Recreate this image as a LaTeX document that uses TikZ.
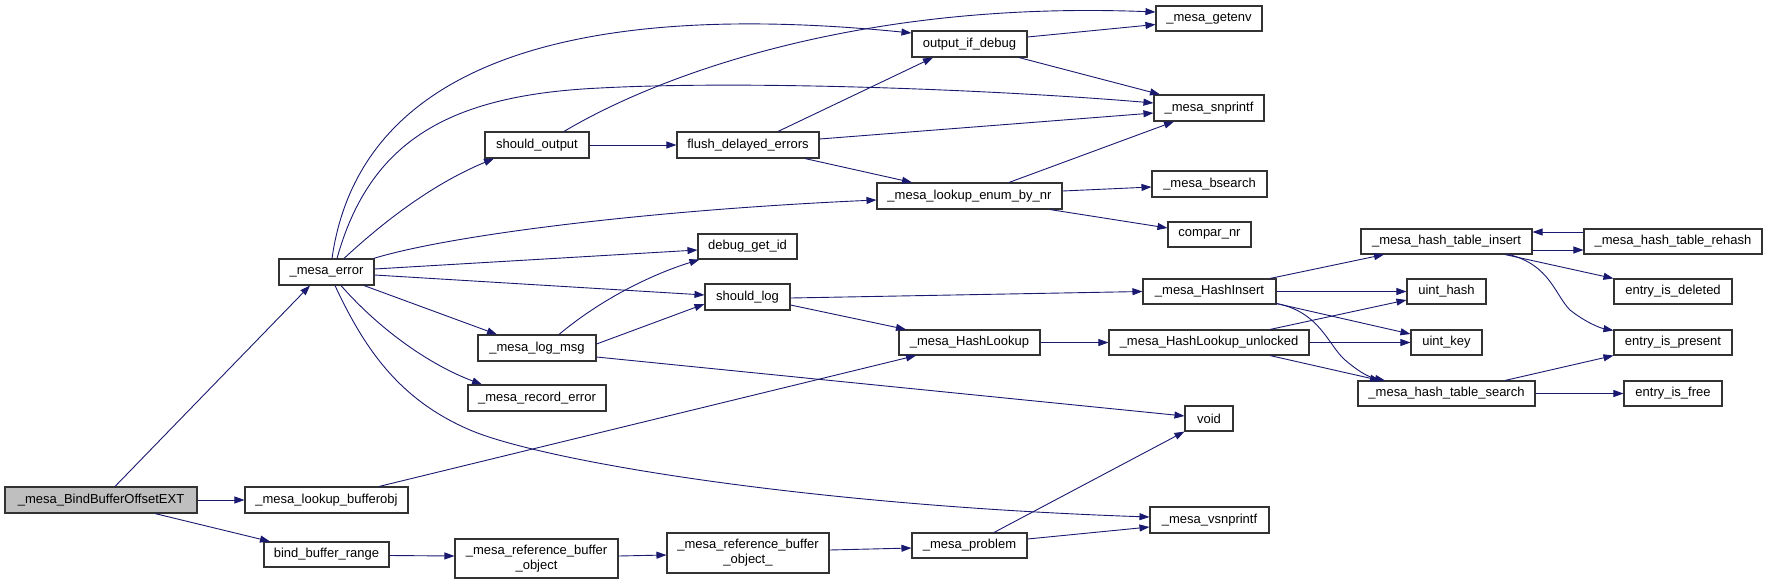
\documentclass[tikz,border=0pt]{standalone}
\usepackage{fontspec}
\setmainfont{Liberation Sans}
\usetikzlibrary{arrows.meta}
\definecolor{edgec}{HTML}{191970}
\definecolor{boxc}{HTML}{333333}
\begin{document}
\begin{tikzpicture}[x=1pt,y=-1pt,
  box/.style={draw=boxc,line width=1.1pt,fill=white,inner sep=0pt,font=\fontsize{13}{15}\selectfont,align=center},
  e/.style={draw=edgec,line width=0.9pt,-{Triangle[length=10pt,width=7pt]}}]
\useasboundingbox (0,0) rectangle (1768,584);
% nodes
\node[box,fill=black!25,minimum width=192,minimum height=26] (bind) at (101,500) {\_mesa\_BindBufferOffsetEXT};
\node[box,minimum width=163,minimum height=26] (lbo) at (326.5,500) {\_mesa\_lookup\_bufferobj};
\node[box,minimum width=125,minimum height=25] (bbr) at (326.5,554.5) {bind\_buffer\_range};
\node[box,minimum width=95,minimum height=26] (err) at (326.5,272) {\_mesa\_error};
\node[box,minimum width=104,minimum height=26] (so) at (537,145) {should\_output};
\node[box,minimum width=142,minimum height=26] (fde) at (748,145) {flush\_delayed\_errors};
\node[box,minimum width=115,minimum height=26] (oid) at (969.5,44) {output\_if\_debug};
\node[box,minimum width=106,minimum height=25] (genv) at (1209,18.5) {\_mesa\_getenv};
\node[box,minimum width=110,minimum height=26] (snp) at (1209,108) {\_mesa\_snprintf};
\node[box,minimum width=185,minimum height=26] (len) at (969.5,196) {\_mesa\_lookup\_enum\_by\_nr};
\node[box,minimum width=115,minimum height=26] (bs) at (1209.5,184) {\_mesa\_bsearch};
\node[box,minimum width=83,minimum height=25] (cnr) at (1209.5,234.5) {compar\_nr};
\node[box,minimum width=99,minimum height=25] (dgi) at (747.5,246.5) {debug\_get\_id};
\node[box,minimum width=85,minimum height=26] (sl) at (747.5,297) {should\_log};
\node[box,minimum width=118,minimum height=26] (lm) at (537,348) {\_mesa\_log\_msg};
\node[box,minimum width=138,minimum height=26] (rec) at (537,398) {\_mesa\_record\_error};
\node[box,minimum width=141,minimum height=25] (hl) at (969.5,342.5) {\_mesa\_HashLookup};
\node[box,minimum width=133,minimum height=25] (hi) at (1209.5,291.5) {\_mesa\_HashInsert};
\node[box,minimum width=200,minimum height=25] (hlu) at (1209,342.5) {\_mesa\_HashLookup\_unlocked};
\node[box,minimum width=171,minimum height=25] (hti) at (1446.5,241.5) {\_mesa\_hash\_table\_insert};
\node[box,minimum width=178,minimum height=25] (rh) at (1673,241.5) {\_mesa\_hash\_table\_rehash};
\node[box,minimum width=79,minimum height=25] (uh) at (1446.5,291.5) {uint\_hash};
\node[box,minimum width=71,minimum height=25] (uk) at (1446.5,342.5) {uint\_key};
\node[box,minimum width=118,minimum height=25] (eid) at (1673,291.5) {entry\_is\_deleted};
\node[box,minimum width=118,minimum height=25] (eip) at (1673,342.5) {entry\_is\_present};
\node[box,minimum width=177,minimum height=25] (hts) at (1446.5,393.5) {\_mesa\_hash\_table\_search};
\node[box,minimum width=98,minimum height=25] (eif) at (1673,393.5) {entry\_is\_free};
\node[box,minimum width=48,minimum height=25] (void) at (1209,418.5) {void};
\node[box,minimum width=119,minimum height=26] (vsn) at (1209.5,520) {\_mesa\_vsnprintf};
\node[box,minimum width=163,minimum height=39] (rbo) at (536.5,558.5) {\_mesa\_reference\_buffer\\\_object};
\node[box,minimum width=162,minimum height=40] (rbou) at (748,553) {\_mesa\_reference\_buffer\\\_object\_};
\node[box,minimum width=115,minimum height=25] (prob) at (969.5,545.5) {\_mesa\_problem};
% edges
\draw[e] ([xshift=14pt]bind.north) -- ([xshift=-16.5pt]err.south);
\draw[e] (bind.east) -- (lbo.west);
\draw[e] ([xshift=54pt]bind.south) -- ([xshift=-56.5pt]bbr.north);
\draw[e] ([xshift=5.5pt]err.north) .. controls (360,60) and (580,0) .. ([yshift=11pt]oid.west);
\draw[e] ([xshift=10.5pt]err.north) .. controls (370,140) and (450,95) .. (600,88) .. controls (750,80) and (1000,90) .. ([yshift=5pt]snp.west);
\draw[e] ([xshift=17.5pt]err.north) .. controls (380,225) and (430,185) .. ([xshift=-43pt]so.south);
\draw[e] ([xshift=-1pt]err.north east) .. controls (450,235) and (650,210) .. ([yshift=-4pt]len.west);
\draw[e] ([yshift=3pt]err.east) -- ([yshift=-3.5pt]dgi.west);
\draw[e] ([yshift=-3pt]err.east) -- ([yshift=2pt]sl.west);
\draw[e] ([xshift=37.5pt]err.south) -- ([xshift=-40pt]lm.north);
\draw[e] ([xshift=14.5pt]err.south) .. controls (380,330) and (430,365) .. ([xshift=-55pt]rec.north);
\draw[e] ([xshift=8.5pt]err.south) .. controls (365,350) and (400,400) .. (470,430) .. controls (540,460) and (800,505) .. ([yshift=3pt]vsn.west);
\draw[e] ([xshift=27pt]so.north) .. controls (650,80) and (850,0) .. ([yshift=6.5pt]genv.west);
\draw[e] (so.east) -- (fde.west);
\draw[e] ([xshift=30pt]fde.north) -- ([xshift=-36.5pt]oid.south);
\draw[e] ([yshift=6pt]fde.east) -- ([yshift=-5pt]snp.west);
\draw[e] ([xshift=57pt]fde.south) -- ([xshift=-57.5pt]len.north);
\draw[e] ([yshift=7pt]oid.east) -- ([yshift=-6pt]genv.west);
\draw[e] ([xshift=49.5pt]oid.south) -- ([xshift=-49pt]snp.north);
\draw[e] ([xshift=39.5pt]len.north) -- ([xshift=-35pt]snp.south);
\draw[e] ([yshift=5pt]len.east) -- ([yshift=-3pt]bs.west);
\draw[e] ([xshift=80.5pt]len.south) -- ([yshift=6.5pt]cnr.west);
\draw[e] ([xshift=22pt]lm.north) .. controls (600,300) and (650,275) .. ([xshift=2pt]dgi.south west);
\draw[e] ([yshift=4pt]lm.east) -- ([yshift=-7pt]sl.west);
\draw[e] ([yshift=-9pt]lm.east) -- ([yshift=2.5pt]void.west);
\draw[e] ([yshift=-1pt]sl.east) -- (hi.west);
\draw[e] ([yshift=-8pt]sl.east) -- ([xshift=-63.5pt]hl.north);
\draw[e] ([xshift=52.5pt]lbo.north) -- ([xshift=-53.5pt]hl.south);
\draw[e] (hl.east) -- (hlu.west);
\draw[e] ([xshift=60.5pt]hi.north) -- ([xshift=-62.5pt]hti.south);
\draw[e] (hi.east) -- (uh.west);
\draw[e] ([yshift=1pt]hi.south east) -- ([yshift=8.5pt]uk.west);
\draw[e] ([yshift=1pt]hi.south east) .. controls (1320,312) and (1328,345) .. (1345,360) .. controls (1358,371) and (1368,377) .. ([xshift=-61.5pt]hts.north);
\draw[e] ([xshift=61pt]hlu.north) -- ([yshift=-8.5pt]uh.west);
\draw[e] (hlu.east) -- (uk.west);
\draw[e] ([xshift=61pt]hlu.south) -- ([xshift=-66.5pt]hts.north);
\draw[e] ([yshift=-8.5pt]hti.east) -- ([yshift=-8.5pt]rh.west);
\draw[e] ([yshift=9.5pt]rh.west) -- ([yshift=9.5pt]hti.east);
\draw[e] ([xshift=58.5pt]hti.south) -- (eid.north west);
\draw[e] ([xshift=62.5pt]hti.south) .. controls (1550,265) and (1555,295) .. (1570,310) .. controls (1585,322) and (1600,328) .. ([yshift=-1pt]eip.north west);
\draw[e] ([xshift=58.5pt]hts.north) -- (eip.south west);
\draw[e] (hts.east) -- (eif.west);
\draw[e] ([yshift=-1pt]bbr.east) -- ([yshift=2.5pt]rbo.west);
\draw[e] ([yshift=2.5pt]rbo.east) -- ([yshift=-2pt]rbou.west);
\draw[e] ([yshift=3pt]rbou.east) -- ([yshift=-2.5pt]prob.west);
\draw[e] ([xshift=24.5pt]prob.north) -- (void.south west);
\draw[e] ([yshift=6.5pt]prob.east) -- ([yshift=-7pt]vsn.west);
\end{tikzpicture}
\end{document}
